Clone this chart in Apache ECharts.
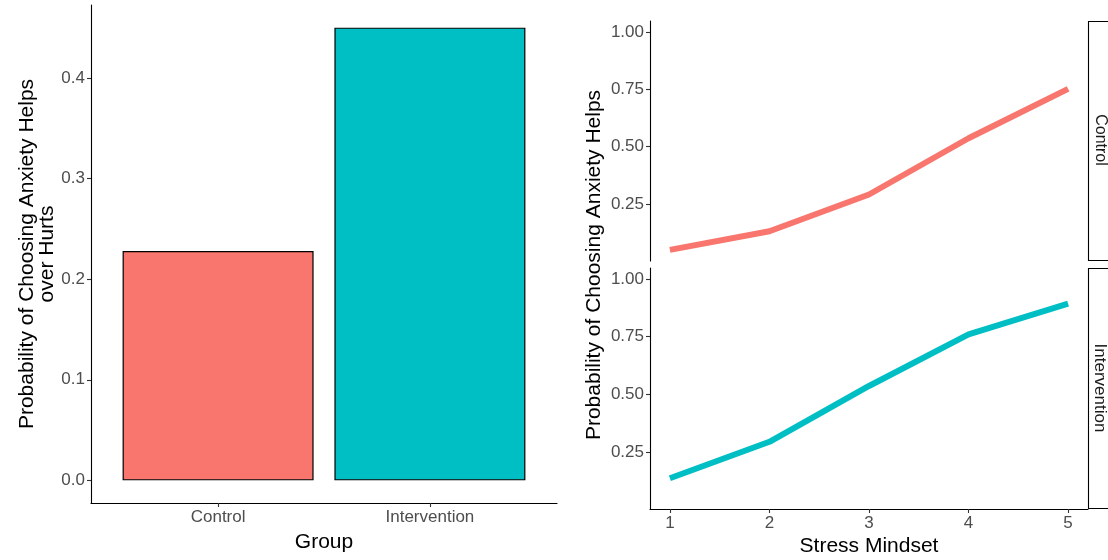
<!DOCTYPE html>
<html>
<head>
<meta charset="utf-8">
<script src="https://cdn.jsdelivr.net/npm/echarts@6/dist/echarts.min.js"></script>
<style>
  html, body { margin: 0; padding: 0; background: #fff; }
  #main { width: 1108px; height: 560px; }
</style>
</head>
<body>
<div id="main"></div>
<script>
// data
const groups = ['Control', 'Intervention'];
const groupProb = [0.228, 0.45];
const groupColors = ['#F8766D', '#00BFC4'];
const mindset = [1, 2, 3, 4, 5];
const controlProb = [0.051, 0.132, 0.292, 0.537, 0.752];
const interventionProb = [0.136, 0.294, 0.536, 0.76, 0.893];
const barTicks = [0, 0.1, 0.2, 0.3, 0.4];
const probTicks = [0.25, 0.5, 0.75, 1];

const font = '"Liberation Sans", Arial, sans-serif';
const axisLine = { show: true, onZero: false, lineStyle: { color: '#000', width: 1.1 } };
const axisTick = (vals) => ({ show: true, length: 4, customValues: vals, lineStyle: { color: '#333', width: 1.1 } });
const label = (vals, fmt) => ({
  color: '#4d4d4d', fontSize: 17, fontFamily: font, customValues: vals, formatter: fmt, margin: 6
});
const titleStyle = { color: '#000', fontSize: 21, fontFamily: font };

let chart = echarts.init(document.getElementById('main'));

function pairs(xs, ys) {
  return xs.map((x, i) => [x, ys[i]]);
}

let option = {
  backgroundColor: '#fff',
  animation: false,
  grid: [
    { left: 91, top: 5, width: 466, height: 498 },
    { left: 650, top: 21, width: 438, height: 240 },
    { left: 650, top: 268, width: 438, height: 241 }
  ],
  xAxis: [{
    gridIndex: 0,
    type: 'value',
    min: 0.4,
    max: 2.6,
    axisLine: axisLine,
    axisTick: axisTick([1, 2]),
    axisLabel: label([1, 2], v => groups[Math.round(v) - 1]),
    splitLine: { show: false },
    name: 'Group',
    nameLocation: 'middle',
    nameGap: 29,
    nameTextStyle: titleStyle
  }, {
    gridIndex: 1,
    type: 'value',
    min: 0.8,
    max: 5.2,
    show: false
  }, {
    gridIndex: 2,
    type: 'value',
    min: 0.8,
    max: 5.2,
    axisLine: axisLine,
    axisTick: axisTick(mindset),
    axisLabel: label(mindset, v => String(v)),
    splitLine: { show: false },
    name: 'Stress Mindset',
    nameLocation: 'middle',
    nameGap: 27,
    nameTextStyle: titleStyle
  }],
  yAxis: [{
    gridIndex: 0,
    type: 'value',
    min: -0.0225,
    max: 0.4725,
    axisLine: axisLine,
    axisTick: axisTick(barTicks),
    axisLabel: label(barTicks, v => v.toFixed(1)),
    splitLine: { show: false },
    name: 'Probability of Choosing Anxiety Helps\nover Hurts',
    nameLocation: 'middle',
    nameRotate: 90,
    nameGap: 33,
    nameTextStyle: Object.assign({ lineHeight: 20, align: 'center' }, titleStyle)
  }, {
    gridIndex: 1,
    type: 'value',
    min: 0.0025,
    max: 1.0475,
    axisLine: axisLine,
    axisTick: axisTick(probTicks),
    axisLabel: label(probTicks, v => v.toFixed(2)),
    splitLine: { show: false }
  }, {
    gridIndex: 2,
    type: 'value',
    min: 0.0025,
    max: 1.0475,
    axisLine: axisLine,
    axisTick: axisTick(probTicks),
    axisLabel: label(probTicks, v => v.toFixed(2)),
    splitLine: { show: false }
  }],
  graphic: [
    {
      type: 'text', x: 594, y: 265, rotation: Math.PI / 2,
      style: { text: 'Probability of Choosing Anxiety Helps', fill: '#000', font: '21px ' + font, align: 'center', verticalAlign: 'middle' }
    },
    { type: 'rect', shape: { x: 1088.5, y: 21.5, width: 40, height: 239 }, style: { fill: '#fff', stroke: '#000', lineWidth: 1.1 } },
    { type: 'rect', shape: { x: 1088.5, y: 268.5, width: 40, height: 240 }, style: { fill: '#fff', stroke: '#000', lineWidth: 1.1 } },
    {
      type: 'text', x: 1100, y: 140, rotation: -Math.PI / 2,
      style: { text: groups[0], fill: '#1a1a1a', font: '16px ' + font, align: 'center', verticalAlign: 'middle' }
    },
    {
      type: 'text', x: 1100, y: 388, rotation: -Math.PI / 2,
      style: { text: groups[1], fill: '#1a1a1a', font: '17px ' + font, align: 'center', verticalAlign: 'middle' }
    }
  ],
  series: [{
    type: 'bar',
    xAxisIndex: 0,
    yAxisIndex: 0,
    barWidth: 191,
    data: groupProb.map((v, i) => ({
      value: [i + 1, v],
      itemStyle: { color: groupColors[i], borderColor: '#000', borderWidth: 1.2 }
    }))
  }, {
    type: 'line',
    xAxisIndex: 1,
    yAxisIndex: 1,
    showSymbol: false,
    data: pairs(mindset, controlProb),
    lineStyle: { color: groupColors[0], width: 6 }
  }, {
    type: 'line',
    xAxisIndex: 2,
    yAxisIndex: 2,
    showSymbol: false,
    data: pairs(mindset, interventionProb),
    lineStyle: { color: groupColors[1], width: 6 }
  }]
};
chart.setOption(option);
</script>
</body>
</html>
